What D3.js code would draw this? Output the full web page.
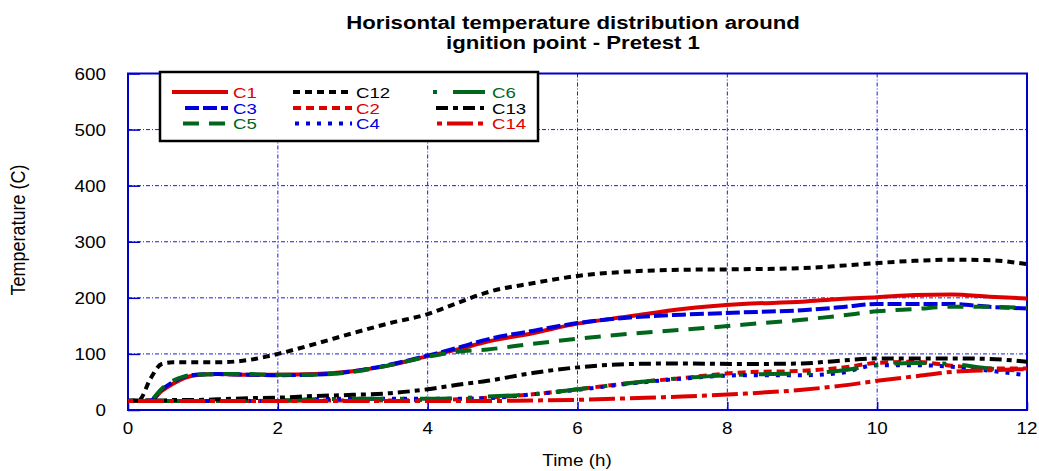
<!DOCTYPE html>
<html>
<head>
<meta charset="utf-8">
<script src="https://cdn.jsdelivr.net/npm/d3@7"></script>
<style>
  html, body { margin: 0; padding: 0; background: #fff; }
  svg { display: block; font-family: Arial, "Liberation Sans", sans-serif; }
</style>
</head>
<body>
<svg id="chart" width="1039" height="471"></svg>
<script>
// Sampling times (h) shared by every thermocouple series
const hours = [0, 0.15, 0.3, 0.45, 0.6, 0.75, 0.9, 1.2, 1.6, 2.0, 2.5, 3.0, 3.5, 4.0,
               4.4, 4.8, 5.4, 6.0, 6.7, 7.4, 8.2, 9.0, 9.5, 10.0, 10.5, 11.0, 11.5, 12.0];

// Temperatures (C) per thermocouple
const c1  = [16, 16, 17, 34, 47, 57, 62, 64, 63, 63, 64, 69, 80, 96, 108, 122, 137, 154, 167, 180, 189, 193, 198, 201, 205, 206, 202, 199];
const c3  = [16, 16, 17, 36, 50, 59, 63, 64, 63, 62, 63, 69, 81, 97, 111, 126, 141, 155, 165, 170, 174, 178, 183, 189, 189, 189, 184, 181];
const c5  = [16, 16, 18, 38, 52, 60, 63, 64, 64, 63, 63, 68, 80, 95, 104, 108, 118, 127, 136, 143, 152, 161, 168, 176, 180, 184, 184, 182];
const c12 = [16, 18, 56, 82, 85, 85, 85, 85, 89, 100, 118, 137, 155, 171, 191, 210, 226, 239, 247, 250, 251, 253, 257, 262, 266, 268, 267, 260];
const c2  = [16, 16, 16, 16, 16, 16, 16, 16, 16, 16, 17, 17, 17, 18, 19, 22, 28, 37, 48, 57, 67, 70, 75, 84, 86, 79, 74, 74];
const c4  = [16, 16, 16, 16, 16, 16, 16, 16, 16, 17, 19, 20, 20, 20, 20, 21, 28, 36, 47, 56, 62, 62, 66, 80, 80, 77, 70, 62];
const c6  = [16, 16, 16, 16, 16, 16, 16, 16, 16, 17, 19, 20, 20, 20, 21, 24, 28, 37, 48, 57, 63, 65, 70, 80, 84, 82, 74, 70];
const c13 = [17, 17, 17, 17, 18, 18, 18, 19, 21, 22, 25, 27, 30, 37, 45, 52, 66, 76, 82, 83, 82, 83, 88, 92, 92, 92, 91, 86];
const c14 = [16, 16, 16, 16, 16, 16, 16, 16, 16, 16, 16, 16, 16, 16, 16, 16, 17, 18, 21, 24, 29, 36, 43, 52, 60, 68, 71, 73];

// Axis ticks
const xTicks = [0, 2, 4, 6, 8, 10, 12];
const yTicks = [0, 100, 200, 300, 400, 500, 600];

const RED = "#dd0000", BLUE = "#0000dd", GREEN = "#00661c", BLACK = "#000000";

// Series styling, listed in legend order (column by column);
// sx1/sx2 give the legend swatch extent
const series = [
  { name: "C1",  values: c1,  color: RED,   dash: null,         sx1: 172, sx2: 228 },
  { name: "C3",  values: c3,  color: BLUE,  dash: "14,4",       sx1: 185, sx2: 228 },
  { name: "C5",  values: c5,  color: GREEN, dash: "16,10",      sx1: 183, sx2: 228 },
  { name: "C12", values: c12, color: BLACK, dash: "7,5",        sx1: 293, sx2: 352 },
  { name: "C2",  values: c2,  color: RED,   dash: "8,5",        sx1: 293, sx2: 352 },
  { name: "C4",  values: c4,  color: BLUE,  dash: "4,7",        sx1: 295, sx2: 352 },
  { name: "C6",  values: c6,  color: GREEN, dash: "4,16,32,16", sx1: 433, sx2: 488 },
  { name: "C13", values: c13, color: BLACK, dash: "12,5,5,5",   sx1: 436, sx2: 484 },
  { name: "C14", values: c14, color: RED,   dash: "5,5,26,5",   sx1: 437, sx2: 487 }
];

const svg = d3.select("#chart");
const plot = { left: 128, right: 1027, top: 73.5, bottom: 410 };
const STRETCH = 1.14;   // text is drawn slightly wide

const x = d3.scaleLinear().domain([0, 12]).range([plot.left, plot.right]);
const y = d3.scaleLinear().domain([0, 600]).range([plot.bottom, plot.top]);

// Helper: wide text anchored at (tx, ty)
function wideText(g, tx, ty, str, opts = {}) {
  const s = opts.stretch || STRETCH;
  return g.append("text")
    .attr("transform", `translate(${tx},${ty}) scale(${s},1)`)
    .attr("text-anchor", opts.anchor || "start")
    .attr("font-size", opts.size || 16.5)
    .attr("font-weight", opts.weight || "normal")
    .attr("fill", opts.fill || "#000")
    .text(str);
}

// Grid
const grid = svg.append("g").attr("stroke", "#1a1aee").attr("stroke-width", 1)
  .attr("stroke-dasharray", "4,2,1,2");
grid.selectAll("line.h").data(yTicks.slice(1, -1)).join("line")
  .attr("x1", plot.left).attr("x2", plot.right)
  .attr("y1", d => y(d)).attr("y2", d => y(d));
grid.selectAll("line.v").data(xTicks.slice(1, -1)).join("line")
  .attr("y1", plot.top).attr("y2", plot.bottom)
  .attr("x1", d => x(d)).attr("x2", d => x(d));

// Axes (inward ticks, labels drawn separately)
const axisColor = "#0000cc";
const yAxis = svg.append("g").attr("transform", `translate(${plot.left},0)`)
  .call(d3.axisRight(y).tickValues(yTicks).tickSize(12).tickFormat(""));
const xAxis = svg.append("g").attr("transform", `translate(0,${plot.bottom})`)
  .call(d3.axisTop(x).tickValues(xTicks).tickSize(8).tickFormat(""));
[yAxis, xAxis].forEach(a => {
  a.selectAll("path").remove();
  a.selectAll("line").attr("stroke", axisColor).attr("stroke-width", 1.5);
});

// Frame
svg.append("rect")
  .attr("x", plot.left).attr("y", plot.top)
  .attr("width", plot.right - plot.left).attr("height", plot.bottom - plot.top)
  .attr("fill", "none").attr("stroke", axisColor).attr("stroke-width", 2);

// Tick labels
const labels = svg.append("g");
yTicks.forEach(v => wideText(labels, 106, y(v) + 6, String(v), { anchor: "end" }));
xTicks.forEach(v => wideText(labels, x(v), 434, String(v), { anchor: "middle" }));

// Axis titles
wideText(labels, 577, 466, "Time (h)", { anchor: "middle" });
labels.append("text")
  .attr("transform", `translate(25,230) rotate(-90) scale(1,1.1)`)
  .attr("text-anchor", "middle").attr("font-size", 18)
  .text("Temperature (C)");

// Chart title
wideText(labels, 573, 28.5, "Horisontal temperature distribution around",
         { anchor: "middle", size: 18.5, weight: "bold", stretch: 1.2 });
wideText(labels, 573, 49, "ignition point - Pretest 1",
         { anchor: "middle", size: 18.5, weight: "bold", stretch: 1.2 });

// Data lines
const line = d3.line()
  .x((d, i) => x(hours[i]))
  .y(d => y(d))
  .curve(d3.curveMonotoneX);

const lines = svg.append("g");
series.forEach(s => {
  lines.append("path")
    .attr("d", line(s.values))
    .attr("fill", "none")
    .attr("stroke", s.color)
    .attr("stroke-width", 4)
    .attr("stroke-dasharray", s.dash);
});

// Legend
const legend = svg.append("g");
legend.append("rect")
  .attr("x", 160).attr("y", 72).attr("width", 378).attr("height", 69)
  .attr("fill", "#fff").attr("stroke", "#000").attr("stroke-width", 2.5);

const legTextX = [233, 356, 492];
const legRows = [92, 108, 123.5];

series.forEach((s, i) => {
  const ry = legRows[i % 3];
  legend.append("line")
    .attr("x1", s.sx1).attr("x2", s.sx2)
    .attr("y1", ry).attr("y2", ry)
    .attr("stroke", s.color).attr("stroke-width", 4)
    .attr("stroke-dasharray", s.dash);
  wideText(legend, legTextX[Math.floor(i / 3)], ry + 5.5, s.name,
           { fill: s.color, size: 15.5, stretch: 1.2 });
});
</script>
</body>
</html>
